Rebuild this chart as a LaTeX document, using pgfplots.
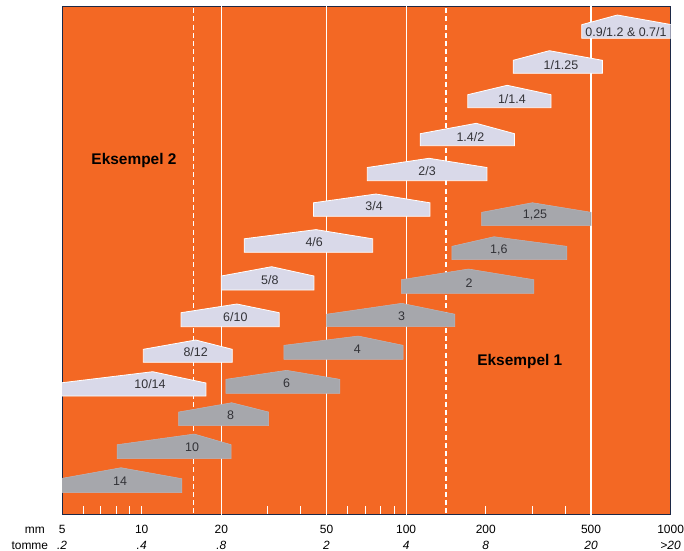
\documentclass[border=0pt]{standalone}
\usepackage{fontspec}
\setmainfont{Liberation Sans}
\usepackage{pgfplots}
\pgfplotsset{compat=1.18}
\usetikzlibrary{calc}

\definecolor{bgorange}{RGB}{243,104,36}
\definecolor{sievec}{RGB}{217,217,233}
\definecolor{stonec}{RGB}{166,167,172}
\definecolor{stoneedge}{RGB}{182,183,192}
\definecolor{framec}{RGB}{28,40,70}
\definecolor{labtext}{RGB}{50,50,55}

\newcommand\ticklab{\fontsize{12}{14}\selectfont}
\newcommand\shapelab{\fontsize{12.5}{14}\selectfont}

\tikzset{
    sieve/.style={fill=sievec, draw=white, line width=0.8bp},
    stone/.style={fill=stonec, draw=stoneedge, line width=0.5bp},
    lab/.style={font=\shapelab, text=labtext},
}

\begin{document}
\begin{tikzpicture}
\begin{axis}[
    name=ax,
    scale only axis,
    width=608.5bp, height=507.5bp,
    xmode=log,
    xmin=5, xmax=1000,
    ymin=6.5, ymax=514,
    y dir=reverse,
    axis background/.style={fill=bgorange},
    axis line style={draw=framec, line width=0.9bp},
    ytick=\empty,
    xtick={5,10,20,50,100,200,500,1000},
    xticklabels={5,10,20,50,100,200,500,1000},
    extra x ticks={5,10,20,50,100,200,500,1000},
    extra x tick labels={.2,.4,.8,2,4,8,20,{>20}},
    extra x tick style={xticklabel style={yshift=-15.7bp, font=\ticklab\itshape}},
    minor xtick={6,7,8,9,10,30,40,60,70,80,90,200,300,400},
    major tick length=0pt,
    minor tick length=8bp,
    tick align=inside,
    xtick pos=bottom,
    minor tick style={white, line width=1bp},
    xticklabel style={anchor=base, yshift=-19.3bp, inner sep=0pt, font=\ticklab, text=black},
]
% guide lines
\addplot[white, line width=1.2bp] coordinates {(20,0) (20,600)};
\addplot[white, line width=1.2bp] coordinates {(50,0) (50,600)};
\addplot[white, line width=1.2bp] coordinates {(100,0) (100,600)};
\addplot[white, line width=1.2bp] coordinates {(500,0) (500,600)};
\addplot[white, line width=1.8bp, dash pattern=on 5bp off 3.2bp] coordinates {(15.7,0) (15.7,600)};
\addplot[white, line width=1.8bp, dash pattern=on 5bp off 3.2bp] coordinates {(141,0) (141,600)};

% sieve pairs
\addplot[sieve] coordinates {(461,38.3) (461,24.7) (629,15) (1010,24.7) (1010,38.3)} --cycle;
\addplot[sieve] coordinates {(254,73.3) (254,60.3) (348,50.7) (552,60.3) (552,73.3)} --cycle;
\addplot[sieve] coordinates {(171,107.7) (171,94.7) (241,85.3) (353,94.7) (353,107.7)} --cycle;
\addplot[sieve] coordinates {(113,145.7) (113,133.7) (184,123.3) (257,133.7) (257,145.7)} --cycle;
\addplot[sieve] coordinates {(71.3,180.7) (71.3,167.5) (122,158.3) (202,167.5) (202,180.7)} --cycle;
\addplot[sieve] coordinates {(44.6,216.3) (44.6,202.8) (76.9,194) (123,202.8) (123,216.3)} --cycle;
\addplot[sieve] coordinates {(24.4,252.3) (24.4,238.8) (45.6,229.6) (74.7,238.8) (74.7,252.3)} --cycle;
\addplot[sieve] coordinates {(20,290) (20,276) (31,266.7) (44.8,276) (44.8,290)} --cycle;
\addplot[sieve] coordinates {(14.08,326.7) (14.08,312.7) (22.9,304) (33.1,312.7) (33.1,326.7)} --cycle;
\addplot[sieve] coordinates {(10.14,362.3) (10.14,349.3) (16,340) (22,349.3) (22,362.3)} --cycle;
\addplot[sieve] coordinates {(4.9,396) (4.9,383) (11,371.7) (17.5,383) (17.5,396)} --cycle;

% single stones
\addplot[stone] coordinates {(193,225.7) (193,212.3) (300,202.7) (501,212.3) (501,225.7)} --cycle;
\addplot[stone] coordinates {(149,259.7) (149,246.3) (215,236.7) (405,246.3) (405,259.7)} --cycle;
\addplot[stone] coordinates {(95.9,293.3) (95.9,279.7) (172,269) (304,279.7) (304,293.3)} --cycle;
\addplot[stone] coordinates {(50,326.7) (50,314.2) (96.2,303.3) (153,314.2) (153,326.7)} --cycle;
\addplot[stone] coordinates {(34.5,359.3) (34.5,345.3) (65.9,336) (97.3,345.3) (97.3,359.3)} --cycle;
\addplot[stone] coordinates {(20.8,393.3) (20.8,379.3) (35.3,370.3) (56.1,379.3) (56.1,393.3)} --cycle;
\addplot[stone] coordinates {(13.8,425.7) (13.8,412) (21.9,402.7) (30.2,412) (30.2,425.7)} --cycle;
\addplot[stone] coordinates {(8.07,458.7) (8.07,444.7) (15.8,434) (21.8,444.7) (21.8,458.7)} --cycle;
\addplot[stone] coordinates {(4.9,492.7) (4.9,478.7) (8.35,467.7) (14.2,478.7) (14.2,492.7)} --cycle;

% labels
\node[lab] at (axis cs:678,31.7) {0.9/1.2 \& 0.7/1};
\node[lab] at (axis cs:385,65.5) {1/1.25};
\node[lab] at (axis cs:251,99.5) {1/1.4};
\node[lab] at (axis cs:175,136.7) {1.4/2};
\node[lab] at (axis cs:120,171.3) {2/3};
\node[lab] at (axis cs:75.6,205.7) {3/4};
\node[lab] at (axis cs:44.9,242.3) {4/6};
\node[lab] at (axis cs:30.5,279.7) {5/8};
\node[lab] at (axis cs:22.6,316.7) {6/10};
\node[lab] at (axis cs:16,352.3) {8/12};
\node[lab] at (axis cs:10.75,384.3) {10/14};

\node[lab] at (axis cs:307,215) {1,25};
\node[lab] at (axis cs:224,249.5) {1,6};
\node[lab] at (axis cs:173,283) {2};
\node[lab] at (axis cs:96.2,316.2) {3};
\node[lab] at (axis cs:65.4,349.3) {4};
\node[lab] at (axis cs:35.3,383.3) {6};
\node[lab] at (axis cs:21.7,415) {8};
\node[lab] at (axis cs:15.5,447.3) {10};
\node[lab] at (axis cs:8.28,481.7) {14};

\node[font=\bfseries\fontsize{15.5}{18}\selectfont] at (axis cs:9.35,160.7) {Eksempel 2};
\node[font=\bfseries\fontsize{15.5}{18}\selectfont] at (axis cs:269,361.7) {Eksempel 1};
\end{axis}
\node[anchor=base east, inner sep=0pt, font=\ticklab] at ($(ax.south west)+(-17.1bp,-19.3bp)$) {mm};
\node[anchor=base east, inner sep=0pt, font=\ticklab] at ($(ax.south west)+(-13.8bp,-35bp)$) {tomme};
\pgfresetboundingbox
\path[use as bounding box] ($(ax.south west)+(-62.1bp,-37bp)$) rectangle ($(ax.north east)+(13.4bp,6.5bp)$);
\end{tikzpicture}
\end{document}
